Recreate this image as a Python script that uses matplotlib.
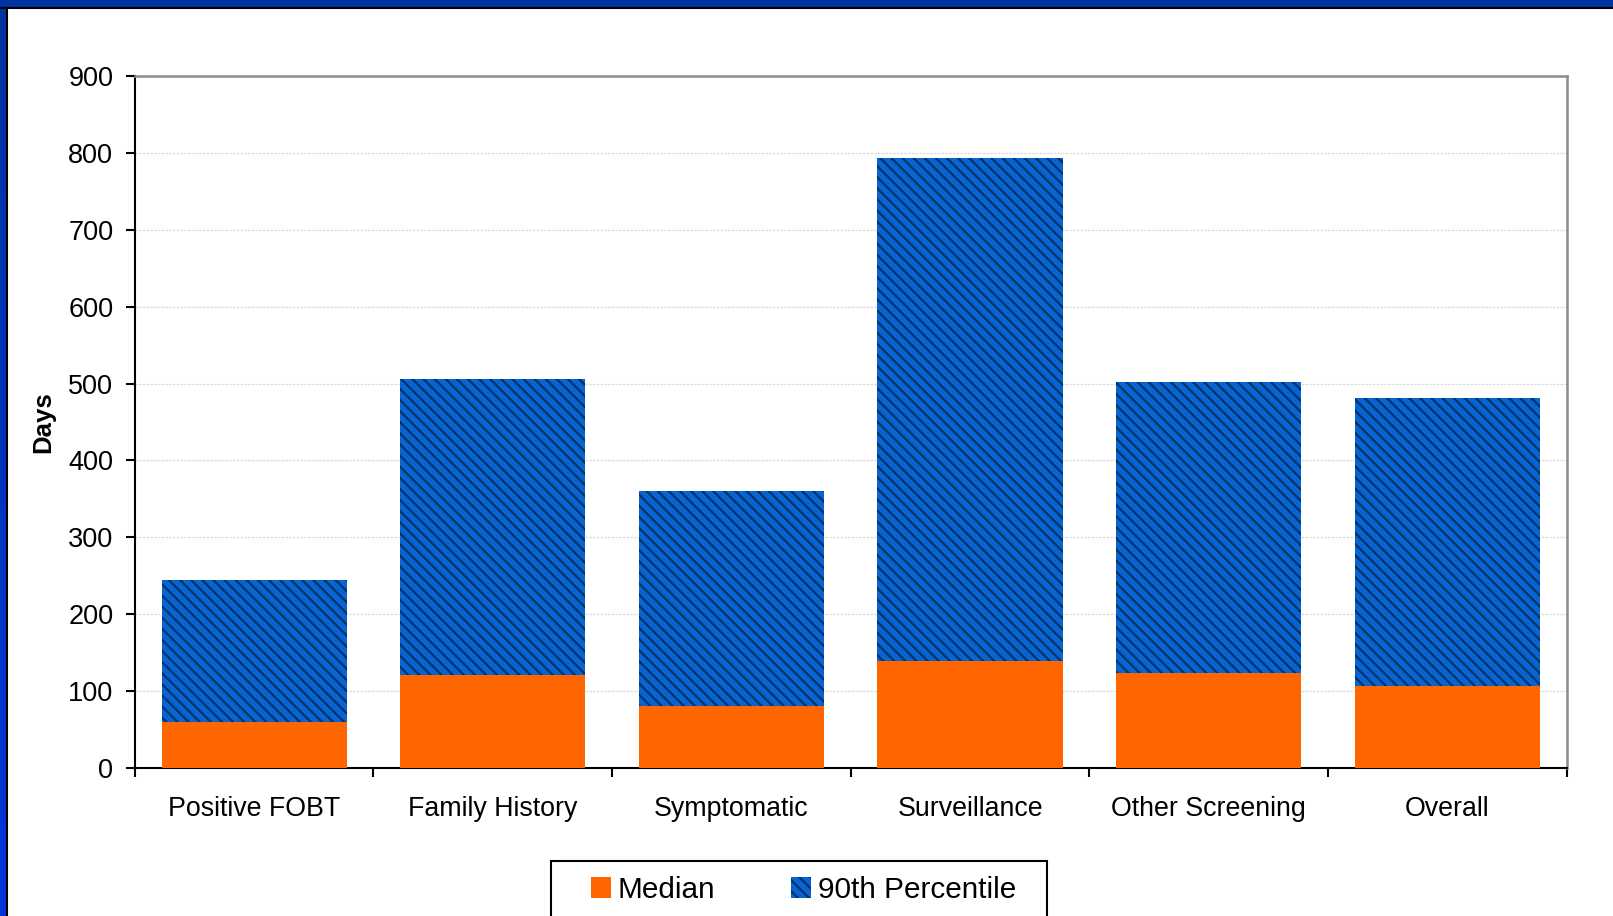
import numpy as np
import matplotlib
matplotlib.use("Agg")
import matplotlib.pyplot as plt
from matplotlib.patches import Patch, Rectangle
from matplotlib.colors import LinearSegmentedColormap

# ---- data ----
categories = ["Positive FOBT", "Family History", "Symptomatic",
              "Surveillance", "Other Screening", "Overall"]
median_days = [60, 121, 80, 139, 123, 106]
p90_days = [244, 506, 360, 794, 502, 481]
yticks = [0, 100, 200, 300, 400, 500, 600, 700, 800, 900]
series_names = ["Median", "90th Percentile"]

ORANGE = "#FF6600"
BLUE = "#0864D0"
NAVY = "#00336C"

plt.rcParams["font.family"] = ["Liberation Sans", "DejaVu Sans"]
plt.rcParams["hatch.linewidth"] = 1.6

W, H = 1613, 916
fig = plt.figure(figsize=(W / 100, H / 100), dpi=100)
fig.patch.set_facecolor("white")

def fx(px):
    return px / W

def fy(py):
    return 1 - py / H

# ---- frame (blue band top and left) ----
top = fig.add_axes([0, fy(7), 1, 7 / H], zorder=-5)
top.set_axis_off()
top.add_patch(Rectangle((0, 0), 1, 1, color="#0033A0", transform=top.transAxes))
left = fig.add_axes([0, 0, fx(6), fy(7)], zorder=-5)
left.set_axis_off()
cmap = LinearSegmentedColormap.from_list("b", ["#0033A0", "#0036DC"])
left.imshow(np.linspace(0, 1, 256).reshape(-1, 1), aspect="auto", cmap=cmap,
            extent=[0, 1, 0, 1])
fig.add_artist(plt.Line2D([0, 1], [fy(8), fy(8)], transform=fig.transFigure,
                          color="black", lw=1.5))
fig.add_artist(plt.Line2D([fx(7), fx(7)], [0, fy(8)], transform=fig.transFigure,
                          color="black", lw=1.5))

# ---- axes ----
AX_L, AX_R, AX_T, AX_B = 134.8, 1566.7, 76.2, 767.8
ax = fig.add_axes([fx(AX_L), fy(AX_B), (AX_R - AX_L) / W, (AX_B - AX_T) / H])
x = np.arange(len(categories))
upper = np.array(p90_days) - np.array(median_days)
bw = 0.776
ax.bar(x, median_days, width=bw, color=ORANGE, linewidth=0, zorder=3)
ax.bar(x, upper, bottom=median_days, width=bw, facecolor=BLUE, edgecolor=NAVY,
       hatch="\\\\\\", linewidth=0, zorder=3)

ax.set_xlim(-0.5, len(categories) - 0.5)
ax.set_ylim(0, 900)
ax.set_yticks(yticks)
ax.set_yticklabels([str(v) for v in yticks], fontsize=19.5)
ax.set_xticks(x)
ax.set_xticklabels(categories, fontsize=19.3)
ax.set_xticks(np.arange(-0.5, len(categories)), minor=True)
ax.tick_params(axis="x", which="major", length=0, pad=20.5)
ax.tick_params(axis="x", which="minor", length=6.5, width=1.5, direction="out", color="black")
ax.tick_params(axis="y", length=6.5, width=1.5, direction="out", pad=9, color="black")

ax.grid(axis="y", color="#DADADA", linestyle=(0, (2, 1)), linewidth=0.9, zorder=0)
ax.set_axisbelow(True)
for s in ["left", "bottom"]:
    ax.spines[s].set_color("black")
    ax.spines[s].set_linewidth(1.5)
for s in ["top", "right"]:
    ax.spines[s].set_color("#8C8C8C")
    ax.spines[s].set_linewidth(1.8)

ax.set_ylabel("Days", fontsize=18.5, fontweight="bold")
ax.yaxis.set_label_coords((55 - AX_L) / (AX_R - AX_L), 0.5)

# ---- legend ----
frame = Rectangle((fx(551), fy(935)), fx(1047 - 551), (935 - 861) / H,
                  transform=fig.transFigure, facecolor="white", edgecolor="black",
                  linewidth=1.5, clip_on=False, zorder=1)
fig.add_artist(frame)
handles = [Patch(facecolor=ORANGE, linewidth=0),
           Patch(facecolor=BLUE, edgecolor=NAVY, hatch="\\\\\\", linewidth=0)]
leg = fig.legend(handles, series_names, loc="center left",
                 bbox_to_anchor=(fx(591), fy(890)), ncol=2, frameon=False,
                 fontsize=21.4, borderpad=0, borderaxespad=0,
                 handlelength=0.673, handleheight=0.673, handletextpad=0.22,
                 columnspacing=2.56)
leg.set_zorder(2)

fig.savefig("out.png", dpi=100)
